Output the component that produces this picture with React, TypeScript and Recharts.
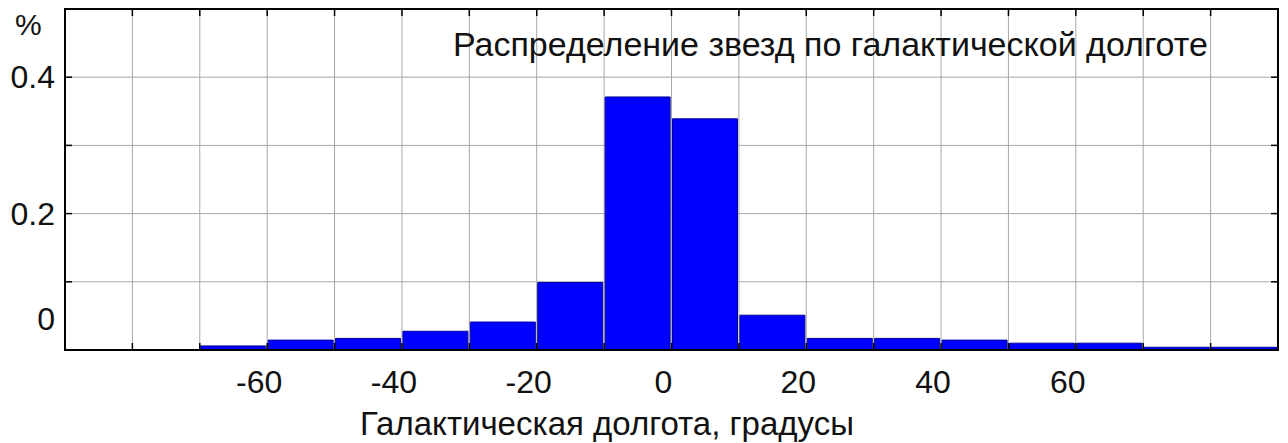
import React from 'react';
import { BarChart, Bar, XAxis, YAxis, CartesianGrid, ReferenceArea } from 'recharts';

const binCenters = [-65, -55, -45, -35, -25, -15, -5, 5, 15, 25, 35, 45, 55, 65, 75, 85];
const shares = [0.006, 0.0145, 0.017, 0.0275, 0.041, 0.099, 0.371, 0.339, 0.051, 0.017, 0.017, 0.0145, 0.01, 0.01, 0.004, 0.004];
const xGridTicks = [-80, -70, -60, -50, -40, -30, -20, -10, 0, 10, 20, 30, 40, 50, 60, 70, 80];
const xLabelTicks = [-60, -40, -20, 0, 20, 40, 60];
const yGridTicks = [0, 0.1, 0.2, 0.3, 0.4];
const yLabelTicks = [0, 0.2, 0.4];
const chartTitle = 'Распределение звезд по галактической долготе';
const xTitle = 'Галактическая долгота, градусы';
const yUnit = '%';

const data = binCenters.map((x, i) => ({ x, v: shares[i] }));

const FONT = '"Liberation Sans", Arial, sans-serif';
const W = 1288;
const H = 443;
const INK = '#111';
const MARGIN = { top: 9, right: 10, left: 64, bottom: 92 };
const PLOT_TOP = MARGIN.top;
const PLOT_RIGHT = W - MARGIN.right;
const TICK = 7;

const BottomTick = (props: any) => {
  const { x, y, payload } = props;
  const v = payload.value;
  return (
    <g>
      <line x1={x} y1={y} x2={x} y2={y - TICK} stroke="#000" strokeWidth={1.5} />
      <line x1={x} y1={PLOT_TOP} x2={x} y2={PLOT_TOP + TICK} stroke="#000" strokeWidth={1.5} />
      {xLabelTicks.includes(v) && (
        <text x={x - 8} y={y + 43} textAnchor="middle" fontSize={32} fontFamily={FONT} fill={INK}>
          {String(v)}
        </text>
      )}
    </g>
  );
};

const LeftTick = (props: any) => {
  const { x, y, payload } = props;
  const v = payload.value;
  const isZero = v === 0;
  return (
    <g>
      {!isZero && <line x1={x} y1={y} x2={x + TICK} y2={y} stroke="#000" strokeWidth={1.5} />}
      {!isZero && (
        <line x1={PLOT_RIGHT} y1={y} x2={PLOT_RIGHT - TICK} y2={y} stroke="#000" strokeWidth={1.5} />
      )}
      {yLabelTicks.includes(v) && (
        <text
          x={x - 10}
          y={isZero ? y - 20 : y + 11}
          textAnchor="end"
          fontSize={32}
          fontFamily={FONT}
          fill={INK}
        >
          {String(v)}
        </text>
      )}
    </g>
  );
};

export default function App() {
  return (
    <div style={{ position: 'absolute', left: 0, top: 0, width: W, height: H, background: '#fff' }}>
      <BarChart
        width={W}
        height={H}
        data={data}
        margin={MARGIN}
        barCategoryGap={0}
        barGap={0}
      >
        <CartesianGrid
          stroke="#a8a8a8"
          strokeWidth={1}
          verticalValues={xGridTicks}
          horizontalValues={yGridTicks}
        />
        <XAxis
          dataKey="x"
          type="number"
          domain={[-90, 90]}
          ticks={xGridTicks}
          interval={0}
          height={1}
          tickSize={0}
          tickMargin={0}
          tickLine={false}
          axisLine={{ stroke: '#000', strokeWidth: 2 }}
          tick={BottomTick}
          allowDataOverflow
        />
        <YAxis
          type="number"
          domain={[0, 0.5]}
          ticks={yGridTicks}
          interval={0}
          width={1}
          tickSize={0}
          tickMargin={0}
          tickLine={false}
          axisLine={{ stroke: '#000', strokeWidth: 2 }}
          tick={LeftTick}
          allowDataOverflow
        />
        <Bar
          dataKey="v"
          barSize={65}
          fill="#0000ff"
          stroke="#00009a"
          strokeWidth={1}
          isAnimationActive={false}
        />
        <ReferenceArea
          x1={-90}
          x2={90}
          y1={0}
          y2={0.5}
          fill="none"
          fillOpacity={0}
          stroke="#000"
          strokeWidth={2}
          strokeOpacity={1}
          ifOverflow="visible"
        />
      </BarChart>
      <svg
        width={W}
        height={H}
        style={{ position: 'absolute', left: 0, top: 0, pointerEvents: 'none' }}
      >
        <text x={15} y={35} fontSize={30} fontFamily={FONT} fill={INK}>
          {yUnit}
        </text>
        <text x={453} y={56} fontSize={34} fontFamily={FONT} fill={INK}>
          {chartTitle}
        </text>
        <text x={607} y={435} textAnchor="middle" fontSize={33} fontFamily={FONT} fill={INK}>
          {xTitle}
        </text>
      </svg>
    </div>
  );
}
